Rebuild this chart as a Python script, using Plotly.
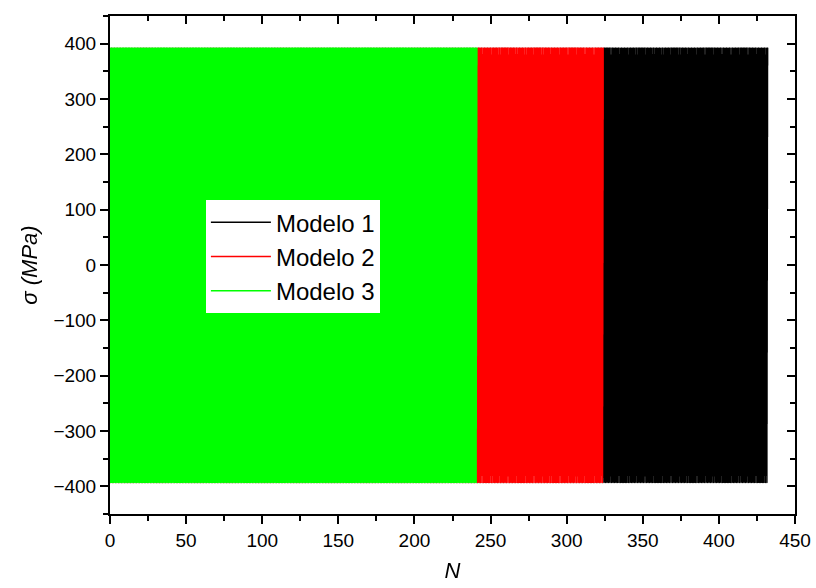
import numpy as np
import plotly.graph_objects as go

# ---- data ----
models = ["Modelo 1", "Modelo 2", "Modelo 3"]
colors = ["#000000", "#ff0000", "#00ff00"]
cycles_to_failure = [432, 324, 241]      # last cycle N of each model
sigma_max = [392, 392, 392]              # MPa, peak of each cycle
sigma_min = [-393, -393, -393]           # MPa, valley of each cycle

x_ticks = [0, 50, 100, 150, 200, 250, 300, 350, 400, 450]
y_ticks = [-400, -300, -200, -100, 0, 100, 200, 300, 400]

fig = go.Figure()
for name, col, n, smax, smin in zip(models, colors, cycles_to_failure, sigma_max, sigma_min):
    # one peak and one valley per load cycle
    N = np.arange(0, n + 0.25, 0.5)
    s = np.where(np.arange(N.size) % 2 == 0, smax, smin)
    fig.add_trace(go.Scattergl(x=N, y=s, mode="lines", name=name,
                               line=dict(color=col, width=1.5)))

# mirrored frame axes (ticks pointing inside)
fig.add_trace(go.Scatter(x=[None], y=[None], xaxis="x2", yaxis="y2",
                         showlegend=False, hoverinfo="skip"))

font = "Liberation Sans, Arial, sans-serif"
axis_common = dict(showgrid=False, zeroline=False, showline=True,
                   linecolor="black", linewidth=2, tickcolor="black",
                   tickwidth=2, ticklen=8, automargin=False,
                   tickfont=dict(family=font, size=19, color="black"))
frame_common = {k: v for k, v in axis_common.items() if k != "tickfont"}

fig.update_layout(
    width=816, height=588,
    margin=dict(l=110, r=21, t=16, b=74),
    paper_bgcolor="white", plot_bgcolor="white",
    showlegend=True,
    legend=dict(x=0.14, y=0.63, xanchor="left", yanchor="top",
                bgcolor="white", borderwidth=0,
                font=dict(family=font, size=24, color="black"),
                itemwidth=60, tracegroupgap=0),
    xaxis=dict(range=[0, 450], tickvals=x_ticks, ticks="outside",
               minor=dict(dtick=25, tick0=0, ticks="outside", ticklen=5,
                          tickwidth=2, tickcolor="black"),
               title=dict(text="<i>N</i>", font=dict(family=font, size=22, color="black"),
                          standoff=13),
               **axis_common),
    yaxis=dict(range=[-450, 450], tickvals=y_ticks, ticks="outside",
               minor=dict(dtick=50, tick0=0, ticks="outside", ticklen=5,
                          tickwidth=2, tickcolor="black"),
               title=dict(text="<i>σ (MPa)</i>", font=dict(family=font, size=22, color="black"),
                          standoff=10),
               **axis_common),
    xaxis2=dict(range=[0, 450], overlaying="x", side="top", tickvals=x_ticks,
                ticks="inside", showticklabels=False,
                minor=dict(dtick=25, tick0=0, ticks="inside", ticklen=5,
                           tickwidth=2, tickcolor="black"),
                **frame_common),
    yaxis2=dict(range=[-450, 450], overlaying="y", side="right", tickvals=y_ticks,
                ticks="inside", showticklabels=False,
                minor=dict(dtick=50, tick0=0, ticks="inside", ticklen=5,
                           tickwidth=2, tickcolor="black"),
                **frame_common),
)

fig.write_html("out.html")
